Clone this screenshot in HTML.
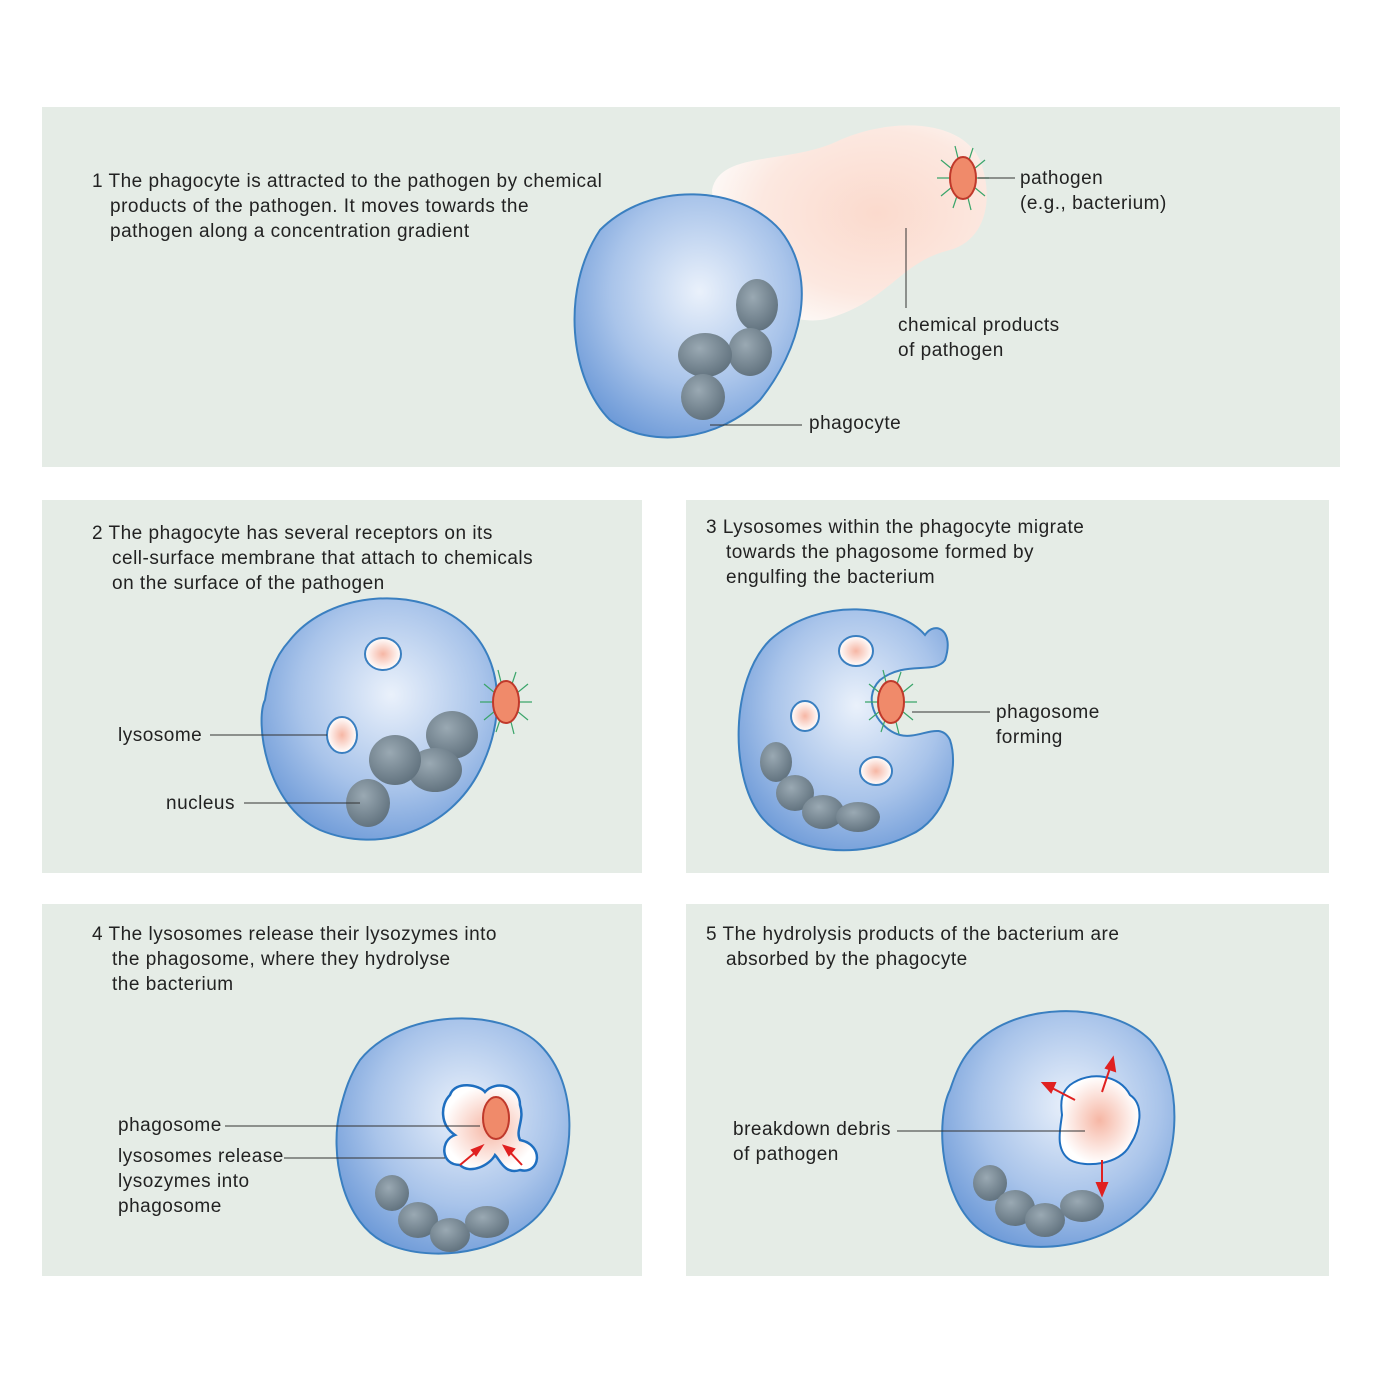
<!DOCTYPE html>
<html><head><meta charset="utf-8"><style>
html,body{margin:0;padding:0;background:#fff;}
svg text{font-family:"Liberation Sans",sans-serif;font-size:19px;letter-spacing:0.5px;fill:#222;}
</style></head><body>
<svg width="1384" height="1384" viewBox="0 0 1384 1384" xmlns="http://www.w3.org/2000/svg">
<defs>
<radialGradient id="cell" cx="0.55" cy="0.4" r="0.65">
<stop offset="0" stop-color="#eaf1fb"/><stop offset="0.6" stop-color="#a9c4ea"/><stop offset="1" stop-color="#6f9bd8"/>
</radialGradient>
<radialGradient id="nuc" cx="0.4" cy="0.35" r="0.7">
<stop offset="0" stop-color="#9aa9b3"/><stop offset="1" stop-color="#5f707c"/>
</radialGradient>
<radialGradient id="cloud" cx="0.6" cy="0.45" r="0.6">
<stop offset="0" stop-color="#fbdacd"/><stop offset="0.7" stop-color="#fce8e0"/><stop offset="1" stop-color="#fdf7f4"/>
</radialGradient>
<radialGradient id="lys" cx="0.5" cy="0.5" r="0.5">
<stop offset="0" stop-color="#f6b6a4"/><stop offset="1" stop-color="#fff"/>
</radialGradient>
<g id="path">
<g stroke="#3aa56a" stroke-width="1.2">
<line x1="0" y1="0" x2="-26" y2="0"/><line x1="0" y1="0" x2="26" y2="0"/>
<line x1="0" y1="0" x2="-22" y2="-18"/><line x1="0" y1="0" x2="22" y2="-18"/>
<line x1="0" y1="0" x2="-22" y2="18"/><line x1="0" y1="0" x2="22" y2="18"/>
<line x1="0" y1="0" x2="-8" y2="-32"/><line x1="0" y1="0" x2="8" y2="32"/>
<line x1="0" y1="0" x2="-10" y2="30"/><line x1="0" y1="0" x2="10" y2="-30"/>
</g>
<ellipse cx="0" cy="0" rx="13" ry="21" fill="#f08a6a" stroke="#c0392b" stroke-width="2"/>
</g>
</defs>
<rect width="1384" height="1384" fill="#fff"/>
<rect x="42" y="107" width="1298" height="360" fill="#e5ece6"/>
<rect x="42" y="500" width="600" height="373" fill="#e5ece6"/>
<rect x="686" y="500" width="643" height="373" fill="#e5ece6"/>
<rect x="42" y="904" width="600" height="372" fill="#e5ece6"/>
<rect x="686" y="904" width="643" height="372" fill="#e5ece6"/>

<!-- Panel 1 -->
<text x="92" y="187">1  The phagocyte is attracted to the pathogen by chemical</text>
<text x="110" y="212">products of the pathogen. It moves towards the</text>
<text x="110" y="237">pathogen along a concentration gradient</text>
<path d="M712 190 C720 150 790 165 840 140 C890 118 960 118 980 160 C995 200 985 240 950 250 C900 262 890 300 830 318 C790 330 720 300 712 190 Z" fill="url(#cloud)"/>
<path d="M600 230 C650 180 740 185 780 230 C820 280 800 350 760 400 C720 440 650 450 610 420 C570 380 560 290 600 230 Z" fill="url(#cell)" stroke="#3a7fc0" stroke-width="2"/>
<g fill="url(#nuc)">
<ellipse cx="757" cy="305" rx="21" ry="26"/><ellipse cx="750" cy="352" rx="22" ry="24"/>
<ellipse cx="705" cy="355" rx="27" ry="22"/><ellipse cx="703" cy="397" rx="22" ry="23"/>
</g>
<use href="#path" x="963" y="178"/>
<line x1="978" y1="178" x2="1015" y2="178" stroke="#333"/>
<text x="1020" y="184">pathogen</text><text x="1020" y="209">(e.g., bacterium)</text>
<line x1="906" y1="228" x2="906" y2="308" stroke="#333"/>
<text x="898" y="331">chemical products</text><text x="898" y="356">of pathogen</text>
<line x1="710" y1="425" x2="802" y2="425" stroke="#333"/>
<text x="809" y="429">phagocyte</text>

<!-- Panel 2 -->
<text x="92" y="539">2  The phagocyte has several receptors on its</text>
<text x="112" y="564">cell-surface membrane that attach to chemicals</text>
<text x="112" y="589">on the surface of the pathogen</text>
<path d="M290 640 C330 590 420 585 465 625 C505 660 505 720 480 770 C450 830 380 855 320 830 C265 805 255 720 265 700 C268 680 272 660 290 640 Z" fill="url(#cell)" stroke="#3a7fc0" stroke-width="2"/>
<ellipse cx="383" cy="654" rx="18" ry="16" fill="url(#lys)" stroke="#3a7fc0" stroke-width="2"/>
<ellipse cx="342" cy="735" rx="15" ry="18" fill="url(#lys)" stroke="#3a7fc0" stroke-width="2"/>
<g fill="url(#nuc)">
<ellipse cx="452" cy="735" rx="26" ry="24"/><ellipse cx="435" cy="770" rx="27" ry="22"/>
<ellipse cx="395" cy="760" rx="26" ry="25"/><ellipse cx="368" cy="803" rx="22" ry="24"/>
</g>
<use href="#path" x="506" y="702"/>
<line x1="210" y1="735" x2="327" y2="735" stroke="#333"/><text x="118" y="741">lysosome</text>
<line x1="244" y1="803" x2="360" y2="803" stroke="#333"/><text x="166" y="809">nucleus</text>

<!-- Panel 3 -->
<text x="706" y="533">3  Lysosomes within the phagocyte migrate</text>
<text x="726" y="558">towards the phagosome formed by</text>
<text x="726" y="583">engulfing the bacterium</text>
<path d="M770 640 C820 595 900 605 925 635 C935 620 955 630 945 660 C935 675 905 660 880 680 C860 700 880 730 900 735 C920 740 940 720 950 740 C960 770 945 820 910 835 C860 860 790 855 760 815 C730 775 730 680 770 640 Z" fill="url(#cell)" stroke="#3a7fc0" stroke-width="2"/>
<ellipse cx="856" cy="651" rx="17" ry="15" fill="url(#lys)" stroke="#3a7fc0" stroke-width="2"/>
<ellipse cx="805" cy="716" rx="14" ry="15" fill="url(#lys)" stroke="#3a7fc0" stroke-width="2"/>
<ellipse cx="876" cy="771" rx="16" ry="14" fill="url(#lys)" stroke="#3a7fc0" stroke-width="2"/>
<g fill="url(#nuc)">
<ellipse cx="776" cy="762" rx="16" ry="20"/><ellipse cx="795" cy="793" rx="19" ry="18"/>
<ellipse cx="823" cy="812" rx="21" ry="17"/><ellipse cx="858" cy="817" rx="22" ry="15"/>
</g>
<use href="#path" x="891" y="702"/>
<line x1="912" y1="712" x2="990" y2="712" stroke="#333"/>
<text x="996" y="718">phagosome</text><text x="996" y="743">forming</text>

<!-- Panel 4 -->
<text x="92" y="940">4  The lysosomes release their lysozymes into</text>
<text x="112" y="965">the phagosome, where they hydrolyse</text>
<text x="112" y="990">the bacterium</text>
<path d="M360 1060 C400 1010 500 1005 540 1045 C580 1085 575 1160 550 1200 C520 1250 440 1265 390 1245 C340 1225 330 1150 340 1110 C345 1090 350 1075 360 1060 Z" fill="url(#cell)" stroke="#3a7fc0" stroke-width="2"/>
<path d="M450 1095 C455 1080 480 1085 485 1092 C495 1080 520 1085 520 1105 C525 1120 515 1130 520 1140 C545 1145 540 1175 520 1170 C505 1175 500 1160 495 1155 C490 1165 470 1175 460 1165 C440 1165 440 1140 455 1135 C440 1125 440 1105 450 1095 Z" fill="url(#lys)" stroke="#1f6fc0" stroke-width="2.5"/>
<ellipse cx="496" cy="1118" rx="13" ry="21" fill="#f08a6a" stroke="#c0392b" stroke-width="2"/>
<g stroke="#e02020" stroke-width="2" fill="#e02020">
<line x1="460" y1="1165" x2="478" y2="1150"/><polygon points="482,1146 472,1150 476,1155"/>
<line x1="522" y1="1165" x2="508" y2="1150"/><polygon points="504,1146 514,1149 509,1155"/>
</g>
<g fill="url(#nuc)">
<ellipse cx="392" cy="1193" rx="17" ry="18"/><ellipse cx="418" cy="1220" rx="20" ry="18"/>
<ellipse cx="450" cy="1235" rx="20" ry="17"/><ellipse cx="487" cy="1222" rx="22" ry="16"/>
</g>
<line x1="225" y1="1126" x2="480" y2="1126" stroke="#333"/><text x="118" y="1131">phagosome</text>
<line x1="284" y1="1158" x2="445" y2="1158" stroke="#333"/>
<text x="118" y="1162">lysosomes release</text><text x="118" y="1187">lysozymes into</text><text x="118" y="1212">phagosome</text>

<!-- Panel 5 -->
<text x="706" y="940">5  The hydrolysis products of the bacterium are</text>
<text x="726" y="965">absorbed by the phagocyte</text>
<path d="M970 1050 C1010 1000 1110 1000 1150 1040 C1185 1080 1180 1160 1150 1200 C1110 1250 1020 1260 980 1230 C940 1200 935 1120 950 1090 C955 1075 960 1062 970 1050 Z" fill="url(#cell)" stroke="#3a7fc0" stroke-width="2"/>
<path d="M1070 1085 C1090 1070 1120 1075 1130 1095 C1145 1105 1140 1130 1130 1145 C1120 1165 1085 1168 1070 1160 C1055 1150 1060 1130 1062 1115 C1060 1100 1062 1092 1070 1085 Z" fill="url(#lys)" stroke="#1f6fc0" stroke-width="2"/>
<g stroke="#e02020" stroke-width="2" fill="#e02020">
<line x1="1075" y1="1100" x2="1052" y2="1088"/><polygon points="1043,1083 1055,1083 1051,1092"/>
<line x1="1102" y1="1092" x2="1110" y2="1068"/><polygon points="1113,1058 1115,1071 1106,1068"/>
<line x1="1102" y1="1160" x2="1102" y2="1185"/><polygon points="1102,1195 1097,1183 1107,1183"/>
</g>
<g fill="url(#nuc)">
<ellipse cx="990" cy="1183" rx="17" ry="18"/><ellipse cx="1015" cy="1208" rx="20" ry="18"/>
<ellipse cx="1045" cy="1220" rx="20" ry="17"/><ellipse cx="1082" cy="1206" rx="22" ry="16"/>
</g>
<line x1="897" y1="1131" x2="1085" y2="1131" stroke="#333"/>
<text x="733" y="1135">breakdown debris</text><text x="733" y="1160">of pathogen</text>
</svg>
</body></html>
